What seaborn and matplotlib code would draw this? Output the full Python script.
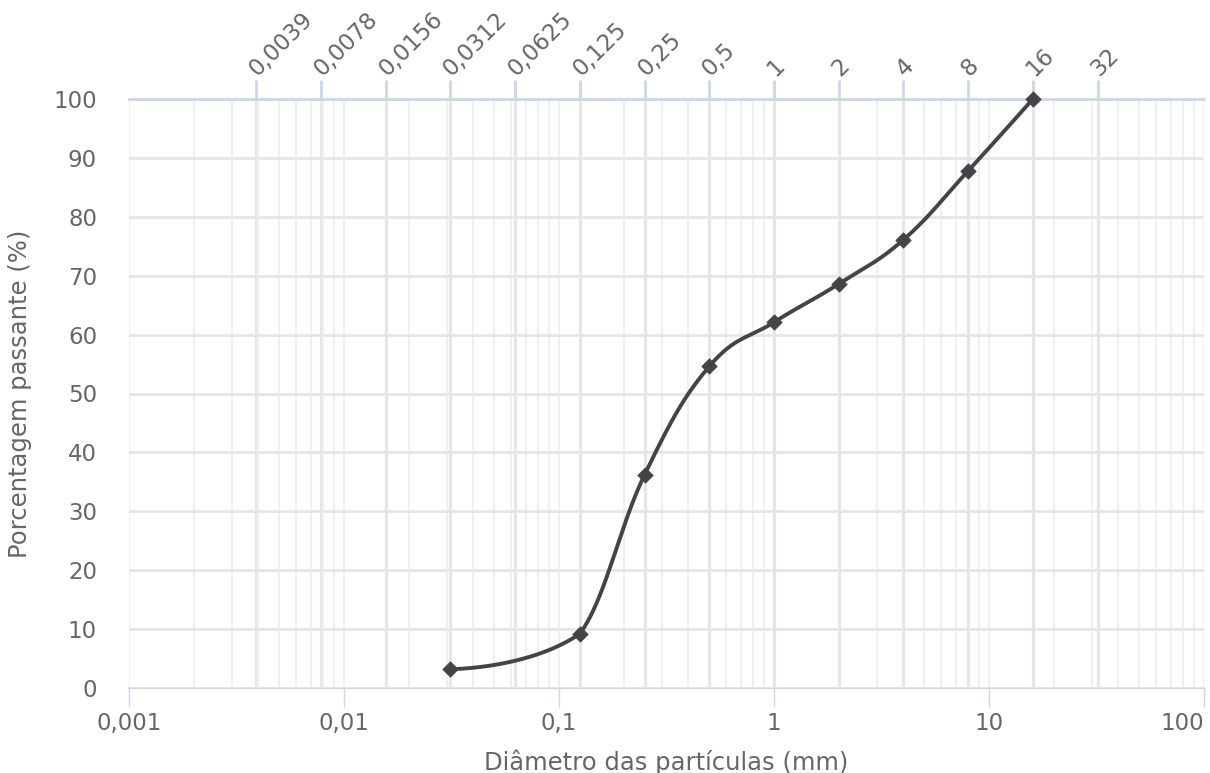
import numpy as np
import pandas as pd
import matplotlib
matplotlib.use("Agg")
import matplotlib.pyplot as plt
import matplotlib.transforms as mtransforms
import seaborn as sns
from matplotlib.ticker import FixedLocator, FixedFormatter, LogLocator, NullFormatter

# ---- data ----
diam = [0.0312, 0.125, 0.25, 0.5, 1, 2, 4, 8, 16]
passing = [3.2, 9.2, 36.2, 54.6, 62.1, 68.6, 76.1, 87.8, 100.0]
phi_ticks = [0.0039, 0.0078, 0.0156, 0.0312, 0.0625, 0.125, 0.25, 0.5, 1, 2, 4, 8, 16, 32]
phi_labels = ["0,0039", "0,0078", "0,0156", "0,0312", "0,0625", "0,125", "0,25", "0,5",
              "1", "2", "4", "8", "16", "32"]
dec_ticks = [0.001, 0.01, 0.1, 1, 10, 100]
dec_labels = ["0,001", "0,01", "0,1", "1", "10", "100"]
y_ticks = list(range(0, 101, 10))
x_title = "Diâmetro das partículas (mm)"
y_title = "Porcentagem passante (%)"

TEXT = "#666666"
LINE = "#434348"
AXIS = "#ccd6eb"
GRID = "#e6e6e6"
MINOR = "#f0f0f0"


def spline(xs, ys, smoothing=1.5, n=60):
    """Highcharts-style spline computed in (log10 x, y) space."""
    lx = np.log10(np.asarray(xs, float))
    y = np.asarray(ys, float)
    N = len(lx)
    left = [(lx[i], y[i]) for i in range(N)]
    right = [(lx[i], y[i]) for i in range(N)]
    d = smoothing + 1
    for i in range(1, N - 1):
        px, py = lx[i], y[i]
        ax0, ay0 = lx[i - 1], y[i - 1]
        nx, ny = lx[i + 1], y[i + 1]
        lcx = (smoothing * px + ax0) / d
        lcy = (smoothing * py + ay0) / d
        rcx = (smoothing * px + nx) / d
        rcy = (smoothing * py + ny) / d
        if rcx != lcx:
            corr = (rcy - lcy) * (rcx - px) / (rcx - lcx) + py - rcy
            lcy += corr
            rcy += corr
        if lcy > ay0 and lcy > py:
            lcy = max(ay0, py); rcy = 2 * py - lcy
        elif lcy < ay0 and lcy < py:
            lcy = min(ay0, py); rcy = 2 * py - lcy
        if rcy > ny and rcy > py:
            rcy = max(ny, py); lcy = 2 * py - rcy
        elif rcy < ny and rcy < py:
            rcy = min(ny, py); lcy = 2 * py - rcy
        left[i] = (lcx, lcy)
        right[i] = (rcx, rcy)
    t = np.linspace(0, 1, n)[:, None]
    segs = []
    for i in range(1, N):
        p0 = np.array([lx[i - 1], y[i - 1]])
        p1 = np.array(right[i - 1])
        p2 = np.array(left[i])
        p3 = np.array([lx[i], y[i]])
        b = ((1 - t) ** 3) * p0 + 3 * ((1 - t) ** 2) * t * p1 + 3 * (1 - t) * t ** 2 * p2 + t ** 3 * p3
        segs.append(b if i == 1 else b[1:])
    pts = np.vstack(segs)
    return 10 ** pts[:, 0], pts[:, 1]


sns.set_style("white")
plt.rcParams["font.family"] = ["DejaVu Sans"]

fig = plt.figure(figsize=(12.1, 7.73), dpi=100)
ax = fig.add_axes([129 / 1210, (773 - 688) / 773, (1204 - 129) / 1210, (688 - 99) / 773])
ax.set_xscale("log")

cx, cy = spline(diam, passing)
curve = pd.DataFrame({"x": cx, "y": cy})
sns.lineplot(data=curve, x="x", y="y", sort=False, estimator=None, color=LINE,
             linewidth=2.8, ax=ax, zorder=4)
pts = pd.DataFrame({"diam": diam, "passing": passing})
sns.scatterplot(data=pts, x="diam", y="passing", marker="D", s=62, color=LINE,
                edgecolor=LINE, linewidth=0.5, ax=ax, zorder=5, clip_on=False)

ax.set_xlim(0.001, 100)
ax.set_ylim(0, 100)

# top axis: phi scale ticks (major), with grid
ax.xaxis.set_major_locator(FixedLocator(phi_ticks))
ax.xaxis.set_major_formatter(FixedFormatter(phi_labels))
ax.xaxis.set_minor_locator(LogLocator(base=10, subs=np.arange(1, 10), numticks=50))
ax.xaxis.set_minor_formatter(NullFormatter())
ax.xaxis.tick_top()
ax.tick_params(axis="x", which="major", top=True, bottom=False, length=13.5, width=2,
               color=AXIS, labelcolor=TEXT, labelsize=16.5, pad=0)
ax.tick_params(axis="x", which="minor", length=0, top=False, bottom=False)
shift = mtransforms.ScaledTranslation(5 / 100, 0, fig.dpi_scale_trans)
for lab in ax.get_xticklabels():
    lab.set_rotation(45)
    lab.set_ha("left")
    lab.set_va("bottom")
    lab.set_rotation_mode("anchor")
    lab.set_transform(lab.get_transform() + shift)

ax.grid(which="major", axis="x", color=GRID, linewidth=2.3)
ax.grid(which="minor", axis="x", color=MINOR, linewidth=1.4)
ax.set_yticks(y_ticks)
ax.grid(which="major", axis="y", color=GRID, linewidth=2)
ax.tick_params(axis="y", length=0, labelcolor=TEXT, labelsize=16.5, pad=23)
ax.set_axisbelow(True)

# bottom axis: decades
sec = ax.secondary_xaxis("bottom")
sec.xaxis.set_major_locator(FixedLocator(dec_ticks))
sec.xaxis.set_major_formatter(FixedFormatter(dec_labels))
sec.xaxis.set_minor_locator(FixedLocator([]))
sec.tick_params(axis="x", length=14, width=1, color=AXIS, labelcolor=TEXT,
                labelsize=16.5, pad=3)
sec.spines["bottom"].set_color(AXIS)
sec.spines["bottom"].set_linewidth(1.5)
sec_labels = sec.get_xticklabels()
sec_labels[-1].set_ha("right")

for s in ["left", "right", "bottom"]:
    ax.spines[s].set_visible(False)
ax.spines["top"].set_color(AXIS)
ax.spines["top"].set_linewidth(2)

ax.set_xlabel("")
ax.set_ylabel(y_title, color=TEXT, fontsize=17.5, va="center")
ax.yaxis.set_label_coords((20 - 129) / 1075, 0.5)
fig.text(666 / 1210, 1 - 762 / 773, x_title, color=TEXT, fontsize=17.5,
         ha="center", va="center")

fig.savefig("out.png", dpi=100, facecolor="white")
